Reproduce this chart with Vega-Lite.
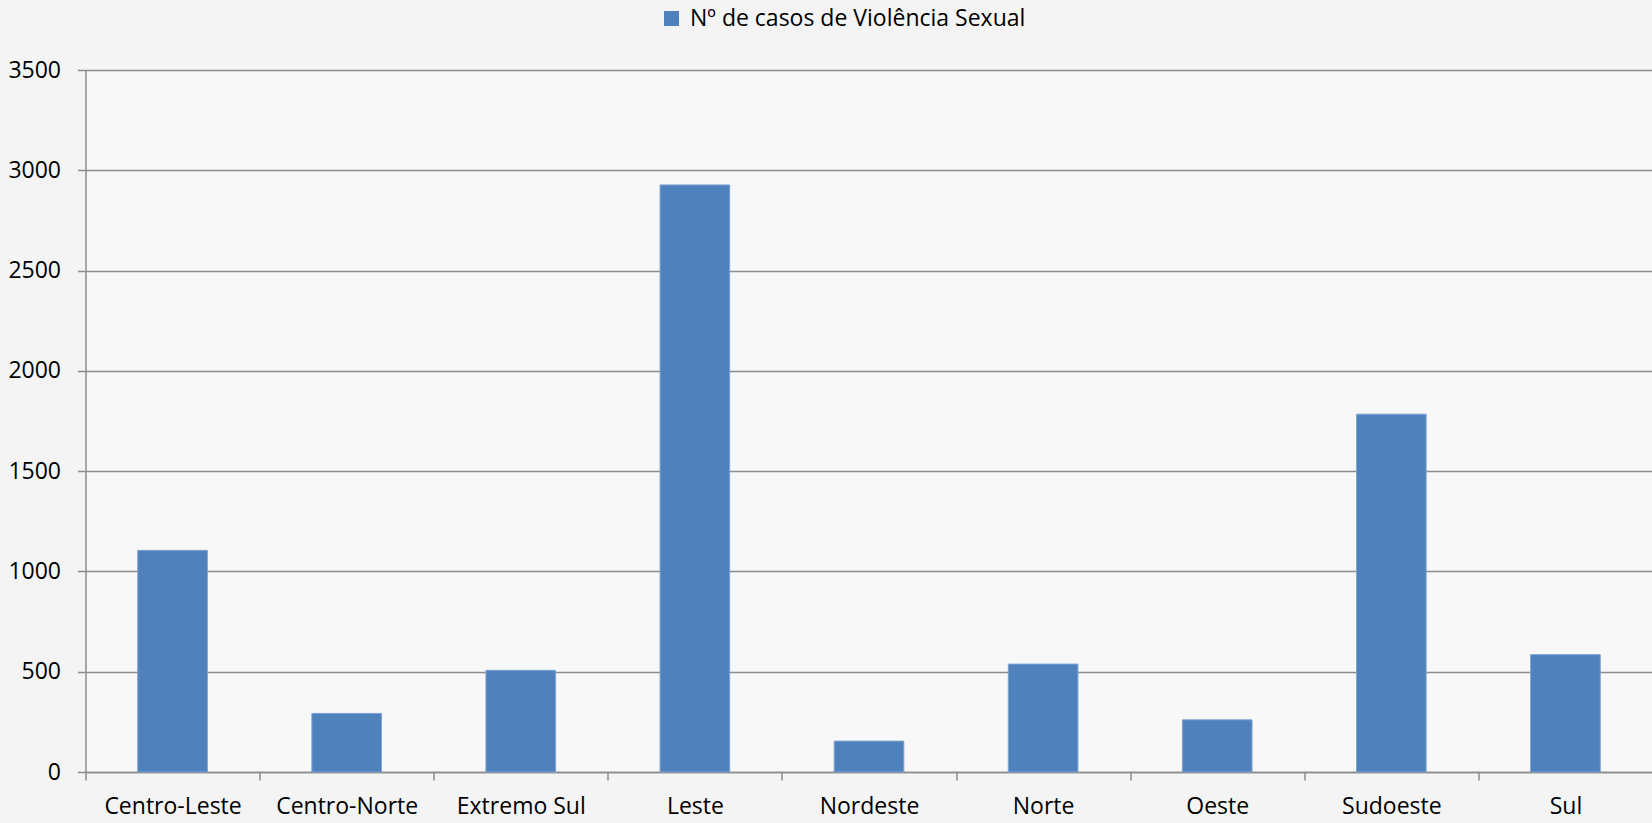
{
  "$schema": "https://vega.github.io/schema/vega-lite/v6.json",
  "autosize": {"type": "none"},
  "padding": {"left": 85.5, "top": 70, "right": 0, "bottom": 51},
  "width": 1567,
  "height": 702,
  "background": "#f4f4f4",
  "data": {
    "values": [
      {"regiao": "Centro-Leste", "casos": 1105, "serie": "Nº de casos de Violência Sexual"},
      {"regiao": "Centro-Norte", "casos": 292, "serie": "Nº de casos de Violência Sexual"},
      {"regiao": "Extremo Sul", "casos": 507, "serie": "Nº de casos de Violência Sexual"},
      {"regiao": "Leste", "casos": 2927, "serie": "Nº de casos de Violência Sexual"},
      {"regiao": "Nordeste", "casos": 154, "serie": "Nº de casos de Violência Sexual"},
      {"regiao": "Norte", "casos": 538, "serie": "Nº de casos de Violência Sexual"},
      {"regiao": "Oeste", "casos": 260, "serie": "Nº de casos de Violência Sexual"},
      {"regiao": "Sudoeste", "casos": 1784, "serie": "Nº de casos de Violência Sexual"},
      {"regiao": "Sul", "casos": 585, "serie": "Nº de casos de Violência Sexual"}
    ]
  },
  "mark": {"type": "bar", "stroke": "#7ea3d0", "strokeWidth": 1, "width": {"band": 0.4}},
  "encoding": {
    "x": {
      "field": "regiao",
      "type": "nominal",
      "sort": null,
      "scale": {"paddingInner": 0, "paddingOuter": 0},
      "axis": {
        "title": null,
        "labelAngle": 0,
        "labelFont": "Open Sans",
        "labelFontSize": 23,
        "labelColor": "#000000",
        "labelPadding": 15,
        "tickBand": "extent",
        "tickSize": 8,
        "tickColor": "#8c8c8c",
        "tickWidth": 1.5,
        "domainColor": "#8c8c8c",
        "domainWidth": 1.5,
        "grid": false
      }
    },
    "y": {
      "field": "casos",
      "type": "quantitative",
      "scale": {"domain": [0, 3500]},
      "axis": {
        "title": null,
        "format": "d",
        "values": [0, 500, 1000, 1500, 2000, 2500, 3000, 3500],
        "labelFont": "Open Sans",
        "labelFontSize": 23,
        "labelColor": "#000000",
        "labelPadding": 17,
        "tickSize": 8,
        "tickColor": "#8c8c8c",
        "tickWidth": 1.5,
        "domainColor": "#8c8c8c",
        "domainWidth": 1.5,
        "gridColor": "#8c8c8c",
        "gridWidth": 1.5
      }
    },
    "color": {
      "field": "serie",
      "type": "nominal",
      "scale": {"range": ["#4f81bd"]},
      "legend": {
        "title": null,
        "orient": "none",
        "legendX": 574.5,
        "legendY": -63,
        "symbolType": "square",
        "symbolSize": 225,
        "symbolStrokeWidth": 0,
        "labelFont": "Open Sans",
        "labelFontSize": 23,
        "labelColor": "#000000",
        "labelOffset": 7,
        "labelLimit": 0
      }
    }
  },
  "config": {
    "view": {"stroke": null, "fill": "#f8f8f8"}
  }
}
